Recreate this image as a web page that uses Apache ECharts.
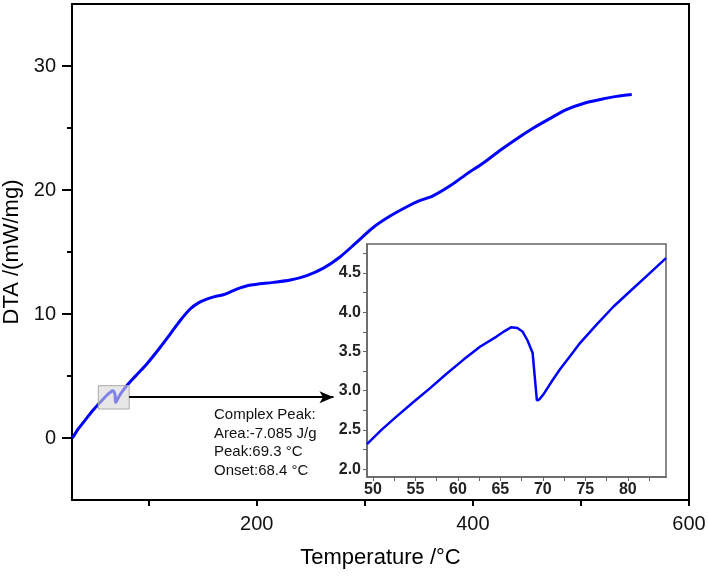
<!DOCTYPE html>
<html>
<head>
<meta charset="utf-8">
<script src="https://cdn.jsdelivr.net/npm/echarts@6/dist/echarts.min.js"></script>
<style>html,body{margin:0;padding:0;background:#fff;}#c{width:708px;height:581px;}</style>
</head>
<body>
<div id="c"></div>
<script>
// Main DTA curve (Temperature °C, DTA mW/mg)
var mainT   = [29.5, 35, 42.6, 48, 49.3, 52.76, 56.7, 60.6, 62.6, 64.55, 66.3, 67.6, 68.8, 69.3, 70.05, 72.0, 74.4, 78.3, 84.5, 90, 98.2, 110.5, 120, 129, 138.3, 146, 153.7, 161, 169, 176, 184.6, 192, 200, 215.4, 231, 246.3, 261.7, 277, 292.6, 308, 323.4, 338.9, 349.6, 363.5, 380, 394.4, 410, 425.3, 440, 456, 472, 487, 503, 518, 533, 547];
var mainDTA = [0.0, 0.75, 1.6, 2.2, 2.32, 2.67, 3.03, 3.39, 3.56, 3.69, 3.81, 3.755, 3.48, 2.875, 2.95, 3.27, 3.61, 4.07, 4.69, 5.2, 5.97, 7.3, 8.4, 9.46, 10.4, 10.9, 11.2, 11.4, 11.55, 11.8, 12.1, 12.3, 12.4, 12.55, 12.74, 13.1, 13.7, 14.6, 15.8, 17.0, 17.9, 18.65, 19.1, 19.55, 20.4, 21.3, 22.2, 23.2, 24.1, 25.0, 25.8, 26.5, 27.0, 27.3, 27.55, 27.7];

// Inset (zoom of the complex peak)
var insetT   = [49.3, 51, 52.76, 54.7, 56.7, 58.6, 60.6, 62.6, 64.55, 65.5, 66.3, 67.0, 67.6, 68.2, 68.8, 69.3, 69.6, 70.05, 71, 72.0, 73.2, 74.4, 76.3, 78.3, 80.4, 82.5, 84.5];
var insetDTA = [2.32, 2.5, 2.67, 2.85, 3.03, 3.21, 3.39, 3.56, 3.69, 3.76, 3.81, 3.80, 3.755, 3.64, 3.48, 2.875, 2.89, 2.95, 3.11, 3.27, 3.44, 3.61, 3.84, 4.07, 4.28, 4.49, 4.69];

// Tick labels
var mainXLabels = [200, 400, 600];
var mainXTicks = [100, 200, 300, 400, 500, 600];
var mainYLabels = [0, 10, 20, 30];
var mainYMinorTicks = [5, 15, 25];
var insetXLabels = [50, 55, 60, 65, 70, 75, 80];
var insetXTicks = [50, 52.5, 55, 57.5, 60, 62.5, 65, 67.5, 70, 72.5, 75, 77.5, 80, 82.5];
var insetYLabels = [2.0, 2.5, 3.0, 3.5, 4.0, 4.5];
var insetYTicks = [2.0, 2.25, 2.5, 2.75, 3.0, 3.25, 3.5, 3.75, 4.0, 4.25, 4.5, 4.75];

// Annotation
var zoomBox = [[53.4, 2.34], [81.9, 4.22]];
var arrowFrom = [81.9, 3.29];
var arrowTo = [271, 3.29];
var peakText = ['Complex Peak:', 'Area:-7.085 J/g', 'Peak:69.3 °C', 'Onset:68.4 °C'];

function zip(a, b) { return a.map(function (v, i) { return [v, b[i]]; }); }

var FONT = 'Liberation Sans, Arial, sans-serif';
var chart = echarts.init(document.getElementById('c'), null, { renderer: 'canvas' });

chart.setOption({
  animation: false,
  backgroundColor: '#fff',
  grid: [
    { left: 72, top: 4, right: 19, bottom: 81, containLabel: false, outerBoundsMode: 'none',
      show: true, borderColor: '#000', borderWidth: 2, backgroundColor: 'transparent' },
    { left: 367, top: 244, right: 42, bottom: 104, containLabel: false, outerBoundsMode: 'none',
      show: true, borderColor: '#666', borderWidth: 1.5, backgroundColor: '#fff', z: 5 }
  ],
  xAxis: [
    {
      gridIndex: 0, type: 'value', min: 29, max: 600,
      name: 'Temperature /°C', nameLocation: 'middle', nameGap: 47,
      nameTextStyle: { fontFamily: FONT, fontSize: 22, color: '#000' },
      axisLine: { show: true, onZero: false, lineStyle: { color: '#000', width: 2 } },
      axisTick: { show: true, inside: false, length: 6, customValues: mainXTicks, lineStyle: { color: '#000', width: 2 } },
      axisLabel: { customValues: mainXLabels, fontFamily: FONT, fontSize: 20, color: '#111', margin: 14 },
      splitLine: { show: false }
    },
    {
      gridIndex: 1, type: 'value', min: 49.3, max: 84.5,
      axisLine: { show: true, onZero: false, lineStyle: { color: '#666', width: 1.5 } },
      axisTick: { show: true, inside: false, length: 4, customValues: insetXTicks, lineStyle: { color: '#666', width: 1 } },
      axisLabel: { customValues: insetXLabels, fontFamily: FONT, fontSize: 16, fontWeight: 'bold', color: '#222', margin: 5 },
      splitLine: { show: false }, z: 6
    }
  ],
  yAxis: [
    {
      gridIndex: 0, type: 'value', min: -5, max: 35,
      name: 'DTA /(mW/mg)', nameLocation: 'middle', nameGap: 47, nameRotate: 90,
      nameTextStyle: { fontFamily: FONT, fontSize: 22, color: '#000' },
      axisLine: { show: true, onZero: false, lineStyle: { color: '#000', width: 2 } },
      axisTick: { show: true, inside: false, length: 10, customValues: mainYLabels, lineStyle: { color: '#000', width: 2 } },
      axisLabel: { customValues: mainYLabels, fontFamily: FONT, fontSize: 20, color: '#111', margin: 16 },
      splitLine: { show: false }
    },
    {
      gridIndex: 0, type: 'value', min: -5, max: 35, position: 'left', offset: 0,
      axisLine: { show: false },
      axisTick: { show: true, inside: false, length: 5, customValues: mainYMinorTicks, lineStyle: { color: '#000', width: 2 } },
      axisLabel: { show: false },
      splitLine: { show: false }
    },
    {
      gridIndex: 1, type: 'value', min: 1.9, max: 4.87,
      axisLine: { show: true, onZero: false, lineStyle: { color: '#666', width: 1.5 } },
      axisTick: { show: true, inside: false, length: 4, customValues: insetYTicks, lineStyle: { color: '#666', width: 1 } },
      axisLabel: { customValues: insetYLabels, fontFamily: FONT, fontSize: 16, fontWeight: 'bold', color: '#222', margin: 6,
        formatter: function (v) { return Number(v).toFixed(1); } },
      splitLine: { show: false }, z: 6
    }
  ],
  series: [
    {
      type: 'line', xAxisIndex: 0, yAxisIndex: 0, data: zip(mainT, mainDTA),
      showSymbol: false, smooth: 0.3,
      lineStyle: { color: '#0000ff', width: 3 }, z: 2
    },
    {
      type: 'line', xAxisIndex: 0, yAxisIndex: 0, data: [], z: 4,
      markArea: {
        silent: true, z: 4,
        itemStyle: { color: 'rgba(215,215,215,0.6)', borderColor: '#aaa', borderWidth: 1 },
        data: [[{ coord: zoomBox[0] }, { coord: zoomBox[1] }]]
      },
      markLine: {
        silent: true, z: 4, symbolSize: [9, 14],
        lineStyle: { color: '#000', width: 2, type: 'solid' },
        label: { show: false },
        data: [[{ coord: arrowFrom, symbol: 'none' }, { coord: arrowTo, symbol: 'arrow' }]]
      }
    },
    {
      type: 'line', xAxisIndex: 1, yAxisIndex: 2, data: zip(insetT, insetDTA),
      showSymbol: false, smooth: false,
      lineStyle: { color: '#0000ff', width: 2.5 }, z: 7
    }
  ],
  graphic: [
    {
      type: 'text', left: 214, top: 406, z: 10,
      style: { text: peakText.join('\n'), fontFamily: FONT, fontSize: 15, lineHeight: 18.5, fill: '#111' }
    }
  ]
});
</script>
</body>
</html>
